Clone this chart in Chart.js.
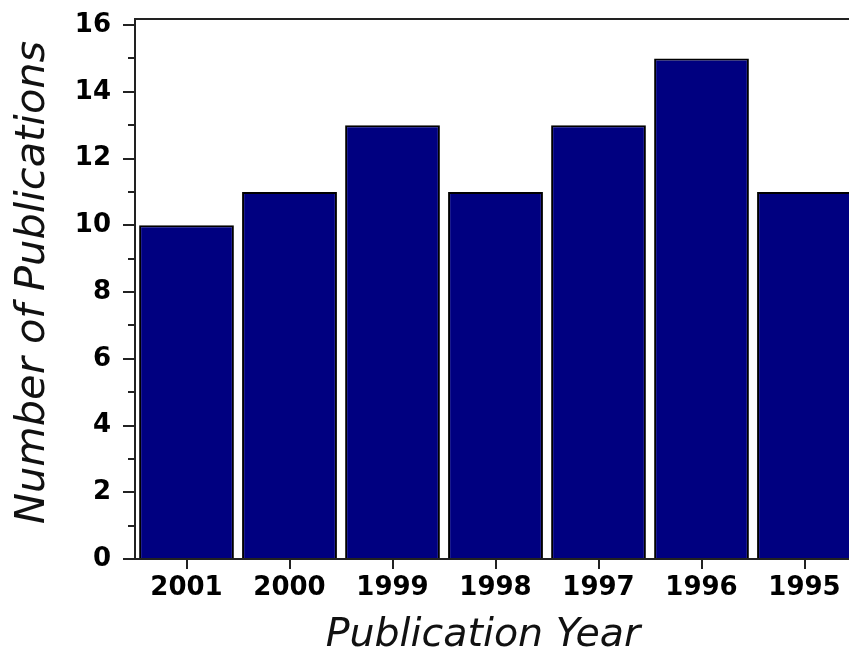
<!DOCTYPE html>
<html>
<head>
<meta charset="utf-8">
<script src="https://cdn.jsdelivr.net/npm/chart.js@4/dist/chart.umd.min.js"></script>
<style>
  html, body { margin: 0; padding: 0; overflow: hidden; background: #fff; }
  #wrap { position: absolute; left: 0; top: 0; width: 856px; height: 656px; }
</style>
</head>
<body>
<div id="wrap"><canvas id="c" width="856" height="656"></canvas></div>
<script>
const categories = ['2001', '2000', '1999', '1998', '1997', '1996', '1995'];
const publications = [10, 11, 13, 11, 13, 15, 11];
const yTickValues = [0, 2, 4, 6, 8, 10, 12, 14, 16];
const yMinorValues = [1, 3, 5, 7, 9, 11, 13, 15];

const frameAndMinor = {
  id: 'frameAndMinor',
  afterDraw(chart) {
    const ctx = chart.ctx;
    const ya = chart.scales.y;
    const area = chart.chartArea;
    ctx.save();
    ctx.strokeStyle = '#222';
    ctx.lineWidth = 2;
    ctx.beginPath();
    yMinorValues.forEach(v => {
      const py = Math.round(ya.getPixelForValue(v));
      ctx.moveTo(area.left - 7, py);
      ctx.lineTo(area.left, py);
    });
    ctx.moveTo(area.left - 1, area.top);
    ctx.lineTo(area.right + 2, area.top);
    ctx.stroke();
    ctx.restore();
  }
};

new Chart(document.getElementById('c'), {
  type: 'bar',
  data: {
    labels: categories,
    datasets: [{
      data: publications,
      backgroundColor: '#000080',
      borderColor: '#000000',
      borderWidth: 2,
      barPercentage: 0.92,
      categoryPercentage: 1.0
    }]
  },
  options: {
    responsive: false,
    animation: false,
    events: [],
    layout: { padding: { top: 19, right: 0, left: 0, bottom: 0 } },
    plugins: { legend: { display: false }, tooltip: { enabled: false } },
    scales: {
      x: {
        grid: { display: true, drawOnChartArea: false, offset: false, tickLength: 10, color: '#222', lineWidth: 2 },
        border: { display: true, color: '#222', width: 2 },
        ticks: { color: '#000', font: { family: 'DejaVu Sans', weight: 'bold', size: 26 }, padding: 4, maxRotation: 0 },
        title: { display: true, text: 'Publication Year  ', color: '#111',
                 font: { family: 'DejaVu Sans', style: 'italic', size: 39.5, lineHeight: 1 }, padding: { top: 0, bottom: 1 } },
        afterFit(scale) { scale.height = 97; scale.paddingLeft = 0; scale.paddingRight = 0; }
      },
      y: {
        min: 0, max: 16.18,
        afterBuildTicks(scale) { scale.ticks = yTickValues.map(v => ({ value: v })); },
        grid: { display: true, drawOnChartArea: false, tickLength: 12, color: '#222', lineWidth: 2 },
        border: { display: true, color: '#222', width: 2 },
        ticks: { color: '#000', font: { family: 'DejaVu Sans', weight: 'bold', size: 26 }, padding: 12 },
        title: { display: true, text: ' Number of Publications', color: '#111',
                 font: { family: 'DejaVu Sans', style: 'italic', size: 41.5, lineHeight: 1 }, padding: { top: 12, bottom: 0 } },
        afterFit(scale) { scale.width = 135; scale.paddingTop = 0; scale.paddingBottom = 0; }
      }
    }
  },
  plugins: [frameAndMinor]
});
</script>
</body>
</html>
